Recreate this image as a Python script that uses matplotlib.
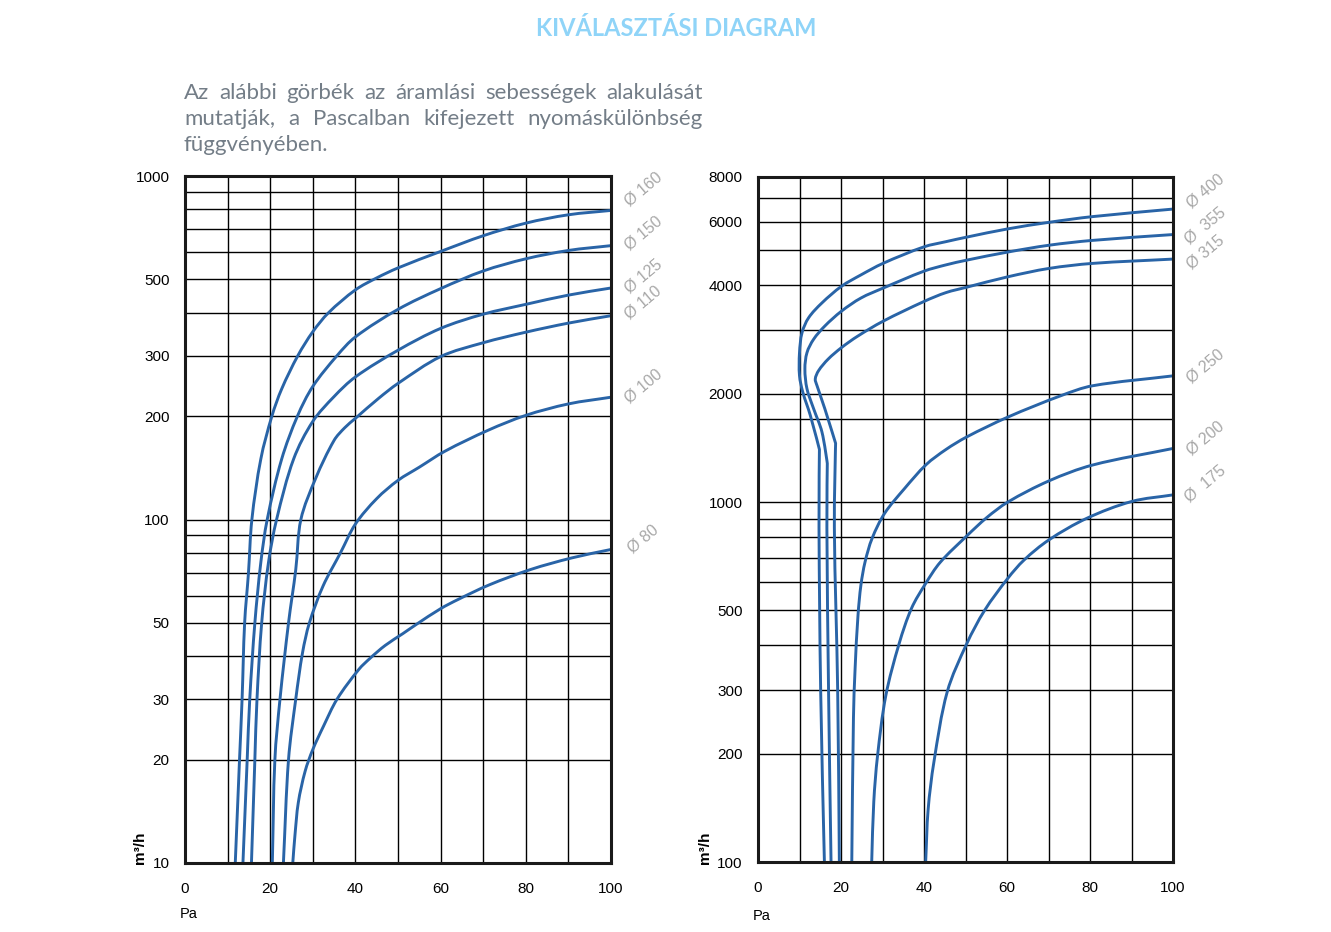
import numpy as np
import matplotlib
matplotlib.use('Agg')
import matplotlib.pyplot as plt
from matplotlib.ticker import FixedLocator, NullFormatter
from matplotlib.path import Path
from matplotlib.patches import PathPatch

#curve data read off the reference : pressure (Pa) and flow (m3/h)
#left diagram
d160_pa = [11.8, 12.8, 13.4, 14.0, 14.9, 15.7, 17.8, 20.4, 22.7, 26.5, 30, 33.7, 40, 45, 50, 60, 70, 80, 90, 100]
d160_q  = [10, 20, 30, 50, 70, 100, 150, 200, 240, 300, 352, 400, 466, 505, 540, 603, 670, 729, 771, 794]
d150_pa = [13.6, 14.6, 15.2, 16.4, 17.8, 19.3, 22.7, 26.4, 30, 35.7, 40, 50, 60, 70, 80, 90, 100]
d150_q  = [10, 20, 30, 50, 75, 100, 150, 200, 244, 300, 340, 409, 470, 529, 574, 607, 627]
d125_pa = [15.6, 16.4, 16.9, 18.0, 19.6, 21.5, 25.5, 30, 35, 40, 50, 60, 70, 80, 90, 100]
d125_q  = [10, 20, 30, 50, 75, 100, 150, 193, 228, 260, 311, 360, 396, 423, 450, 472]
d110_pa = [20.5, 21.1, 22.3, 24.3, 26.0, 27.2, 30.7, 35, 37.5, 40, 45.4, 50, 60, 70, 80, 90, 100]
d110_q  = [10, 20, 30, 50, 71.5, 100, 132, 170, 185, 197, 225, 249, 298, 327, 351, 373, 392]
d100_pa = [23.1, 24.3, 26.0, 27.6, 29.2, 32.4, 36.5, 40, 45, 50, 55, 61, 71.2, 80, 90, 100]
d100_q  = [10, 20, 30, 41, 50, 64, 80, 97, 115, 130, 142, 158, 182, 201, 217, 227]
d80_pa  = [25.3, 25.8, 26.6, 28.2, 30, 32.5, 35.7, 40.8, 43.5, 47, 51.1, 54.3, 60, 64.1, 71.4, 81.1, 90.8, 100]
d80_q   = [10, 12, 15, 18.5, 21.4, 25, 30, 36.6, 39.5, 43, 46.5, 49.5, 55, 58.5, 64.5, 71.5, 77.3, 81.8]

#right diagram
d400_pa = [16.0, 15.1, 14.7, 14.8, 12.6, 10.8, 10.0, 10.0, 10.6, 12.2, 15.4, 20.1, 24.8, 30.1, 40, 45.3, 50.3, 60.2, 70.1, 80.6, 100]
d400_q  = [100, 300, 850, 1400, 1742, 2019, 2245, 2600, 2952, 3251, 3574, 3975, 4276, 4603, 5117, 5290, 5446, 5741, 5986, 6209, 6516]
d355_pa = [17.6, 17.0, 16.6, 16.7, 15.4, 13.4, 11.8, 11.3, 11.8, 13.4, 16.1, 20.1, 24.8, 30.1, 40, 45.3, 50.3, 60.2, 70.1, 80.6, 100]
d355_q  = [100, 300, 850, 1280, 1567, 1817, 2064, 2343, 2600, 2833, 3083, 3390, 3688, 3928, 4380, 4560, 4700, 4950, 5170, 5333, 5536]
d315_pa = [19.6, 19.2, 18.4, 18.7, 16.1, 14.2, 13.8, 14.6, 16.9, 20.1, 24.0, 30.1, 40, 45.3, 50.3, 60.2, 70.1, 80.6, 100]
d315_q  = [100, 300, 850, 1456, 1817, 2109, 2198, 2318, 2495, 2685, 2889, 3178, 3608, 3819, 3953, 4225, 4457, 4603, 4732]
d250_pa = [22.6, 23.0, 23.4, 24.1, 24.8, 25.8, 27.5, 30.5, 35.3, 40.5, 45.3, 50.3, 60.2, 73.1, 80.6, 100]
d250_q  = [100, 251, 345, 485, 588, 682, 793, 930, 1090, 1270, 1400, 1517, 1722, 1977, 2104, 2242]
d200_pa = [27.4, 27.9, 28.8, 30.8, 34.0, 37.0, 40.4, 43.9, 50.3, 55.1, 60.2, 70.1, 80.6, 100]
d200_q  = [100, 147, 197, 290, 404, 507, 594, 680, 805, 905, 1000, 1145, 1267, 1409]
d175_pa = [40.4, 41.0, 42.4, 45.6, 50.3, 54.6, 60.2, 64.1, 70.1, 79.2, 90.1, 100]
d175_q  = [100, 140, 190, 297, 404, 500, 614, 690, 785, 901, 1004, 1047]

left_names  = ['Ø 160', 'Ø 150', 'Ø 125', 'Ø 110', 'Ø 100', 'Ø 80']
right_names = ['Ø 400', 'Ø  355', 'Ø 315', 'Ø 250', 'Ø 200', 'Ø  175']

x_ticks = [0, 20, 40, 60, 80, 100]
x_grid = [10, 30, 50, 70, 90]
left_yticks = [10, 20, 30, 50, 100, 200, 300, 500, 1000]
left_ygrid = [40, 60, 70, 80, 90, 400, 600, 700, 800, 900]
right_yticks = [100, 200, 300, 500, 1000, 2000, 4000, 6000, 8000]
right_ygrid = [400, 600, 700, 800, 900, 1700, 3000, 5000, 7000]

title = 'KIVÁLASZTÁSI DIAGRAM'
intro = [['Az', 'alábbi', 'görbék', 'az', 'áramlási', 'sebességek', 'alakulását'],
         ['mutatják,', 'a', 'Pascalban', 'kifejezett', 'nyomáskülönbség'],
         ['függvényében.']]

W, H = 1331, 932
blue = '#2964a7'
grey_lbl = '#a8a8a8'
plt.rcParams['font.family'] = ['Liberation Sans', 'DejaVu Sans']

fig = plt.figure(figsize=(W/100, H/100), dpi=100)
axL = fig.add_axes([185/W, 1-863/H, 426/W, 687/H])
axR = fig.add_axes([758/W, 1-862/H, 415/W, 685/H])


def setup(ax, ymin, ymax, yticks, ygrid):
    ax.set_yscale('log')
    ax.set_xlim(0, 100)
    ax.set_ylim(ymin, ymax)
    ax.set_xticks(x_ticks)
    ax.set_xticklabels([str(v) for v in x_ticks])
    ax.xaxis.set_minor_locator(FixedLocator(x_grid))
    ax.yaxis.set_major_locator(FixedLocator(yticks))
    ax.set_yticklabels([str(v) for v in yticks])
    ax.yaxis.set_minor_locator(FixedLocator(ygrid))
    ax.yaxis.set_minor_formatter(NullFormatter())
    ax.grid(which='both', color='black', lw=1.0)
    ax.tick_params(which='both', length=0, labelsize=11)
    ax.tick_params(axis='y', pad=11)
    ax.tick_params(axis='x', pad=14)
    for s in ax.spines.values():
        s.set_linewidth(2.2)
        s.set_color('#1a1a1a')
        s.set_zorder(5)


def smooth_curve(ax, p, q, corners=()):
    #cubic bezier through the read points, built in display space
    pts = ax.transData.transform(np.column_stack([p, q]))
    n = len(pts)
    d = np.hypot(*np.diff(pts, axis=0).T)
    tang = np.zeros_like(pts)
    for i in range(n):
        if i in corners:
            continue
        if i == 0:
            tang[i] = (pts[1]-pts[0])/d[0]
        elif i == n-1:
            tang[i] = (pts[-1]-pts[-2])/d[-1]
        else:
            tang[i] = (pts[i+1]-pts[i-1])/(d[i-1]+d[i])
    verts = [pts[0]]
    codes = [Path.MOVETO]
    for i in range(n-1):
        verts += [pts[i]+tang[i]*d[i]/3, pts[i+1]-tang[i+1]*d[i]/3, pts[i+1]]
        codes += [Path.CURVE4]*3
    verts = ax.transData.inverted().transform(np.array(verts))
    ax.add_patch(PathPatch(Path(verts, codes), fill=False, edgecolor=blue,
                           lw=2.1, zorder=3, capstyle='butt', joinstyle='round'))


setup(axL, 10, 1000, left_yticks, left_ygrid)
setup(axR, 100, 8000, right_yticks, right_ygrid)

left_curves = [(d160_pa, d160_q), (d150_pa, d150_q), (d125_pa, d125_q),
               (d110_pa, d110_q), (d100_pa, d100_q), (d80_pa, d80_q)]
right_curves = [(d400_pa, d400_q), (d355_pa, d355_q), (d315_pa, d315_q),
                (d250_pa, d250_q), (d200_pa, d200_q), (d175_pa, d175_q)]

#sharp bends kept in the right diagram
left_corners = [(), (), (), (), (), ()]
right_corners = [(3,), (3,), (3,), (), (), ()]

#label offsets (pixels up from the end of each curve)
left_dy = [21, 12, 12, 13, 11, 10]
right_dy = [18, 9, 7, 10, 10, 11]

for ax, curves, names, dys, corn in [(axL, left_curves, left_names, left_dy, left_corners),
                                     (axR, right_curves, right_names, right_dy, right_corners)]:
    for (p, q), name, dy, c in zip(curves, names, dys, corn):
        smooth_curve(ax, p, q, c)
        ax.annotate(name, xy=(p[-1], q[-1]), xytext=(32*0.72, dy*0.72),
                    textcoords='offset points', ha='center', va='center',
                    rotation=40, color=grey_lbl, fontsize=11.5,
                    annotation_clip=False)

#axis captions
for xm, xp, yp in [(140, 189, 914), (705, 762, 916)]:
    fig.text(xm/W, 1-848/H, 'm³/h', rotation=90, ha='center', va='center',
             fontsize=11, fontweight='bold')
    fig.text(xp/W, 1-yp/H, 'Pa', ha='center', va='center', fontsize=10.5)

#title
fig.text(676/W, 1-28/H, title, ha='center', va='center', color='#8fd4f8',
         fontsize=17, fontweight='bold', family=['Lato', 'DejaVu Sans'])

#justified intro text
r = fig.canvas.get_renderer()
x0, x1 = 184, 703
baselines = [99, 125, 151]
for i, words in enumerate(intro):
    ts = [fig.text(0, 1-baselines[i]/H, w, va='baseline', ha='left',
                   color='#737d87', fontsize=16, family=['Lato', 'DejaVu Sans'])
          for w in words]
    widths = [t.get_window_extent(r).width for t in ts]
    if i < len(intro)-1:
        gap = (x1-x0-sum(widths))/(len(words)-1)
    else:
        gap = 5
    x = x0
    for t, w in zip(ts, widths):
        t.set_x(x/W)
        x += w + gap

plt.savefig('out.png', dpi=100)
